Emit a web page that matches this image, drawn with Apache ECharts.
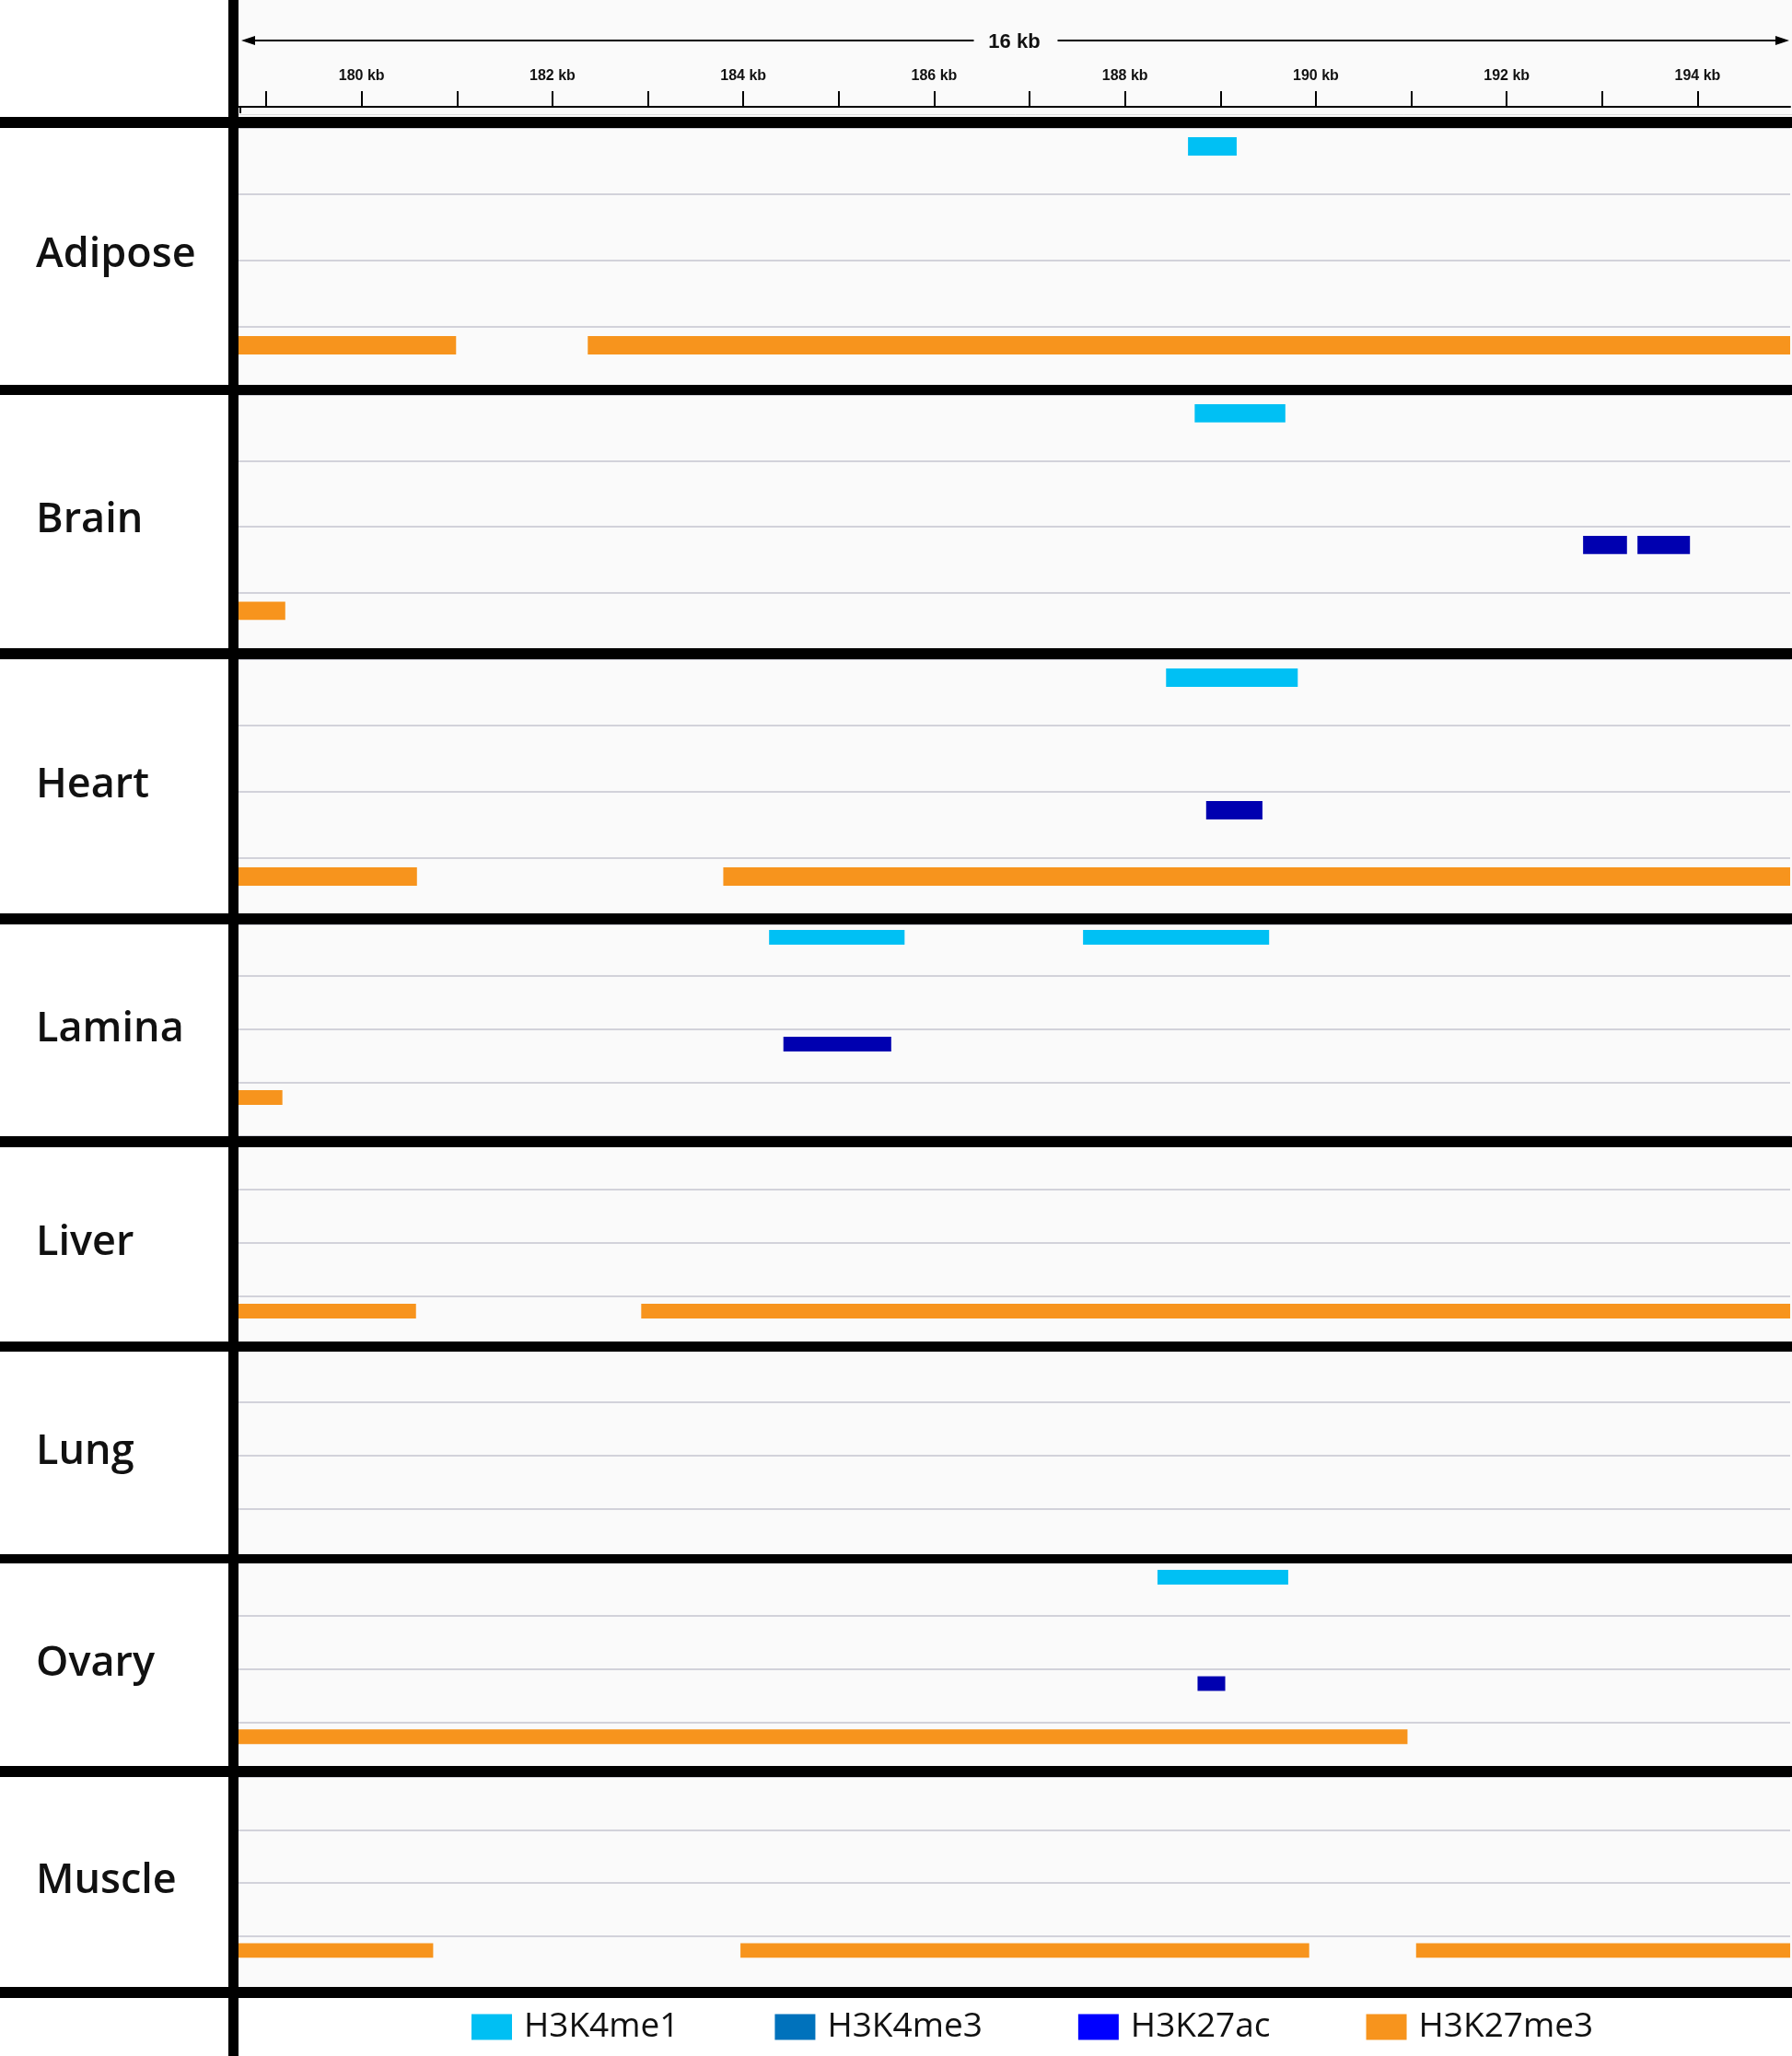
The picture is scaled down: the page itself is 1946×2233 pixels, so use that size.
<!DOCTYPE html>
<html>
<head>
<meta charset="utf-8">
<script src="https://cdn.jsdelivr.net/npm/echarts@6/dist/echarts.min.js"></script>
<style>
  html, body { margin: 0; padding: 0; background: #ffffff; }
  #chart { width: 1946px; height: 2233px; }
</style>
</head>
<body>
<div id="chart"></div>
<script>
// ---------------- data ----------------
const tissues = ['Adipose', 'Brain', 'Heart', 'Lamina', 'Liver', 'Lung', 'Ovary', 'Muscle'];
const marks = ['H3K4me1', 'H3K4me3', 'H3K27ac', 'H3K27me3'];
const viewStart = 178.71;   // kb
const viewEnd = 194.97;     // kb
const majorTicks = [180, 182, 184, 186, 188, 190, 192, 194];
const allTicks = [179, 180, 181, 182, 183, 184, 185, 186, 187, 188, 189, 190, 191, 192, 193, 194];
const spanLabel = '16 kb';

// intervals: [tissue, start kb, end kb]
const H3K4me1 = [
  ['Adipose', 188.66, 189.17],
  ['Brain', 188.73, 189.68],
  ['Heart', 188.43, 189.81],
  ['Lamina', 184.27, 185.69],
  ['Lamina', 187.56, 189.51],
  ['Ovary', 188.34, 189.71]
];
const H3K4me3 = [];
const H3K27ac = [
  ['Brain', 192.80, 193.26],
  ['Brain', 193.37, 193.92],
  ['Heart', 188.85, 189.44],
  ['Lamina', 184.42, 185.55],
  ['Ovary', 188.76, 189.05]
];
const H3K27me3 = [
  ['Adipose', 178.71, 180.99],
  ['Adipose', 182.37, 195.00],
  ['Brain', 178.71, 179.20],
  ['Heart', 178.71, 180.58],
  ['Heart', 183.79, 195.00],
  ['Lamina', 178.71, 179.17],
  ['Liver', 178.71, 180.57],
  ['Liver', 182.93, 195.00],
  ['Ovary', 178.71, 190.96],
  ['Muscle', 178.71, 180.75],
  ['Muscle', 183.97, 189.93],
  ['Muscle', 191.05, 195.00]
];
const markData = { H3K4me1, H3K4me3, H3K27ac, H3K27me3 };

// ---------------- styling / layout ----------------
const barColors = { H3K4me1: '#00c0f4', H3K4me3: '#0072bc', H3K27ac: '#0000b0', H3K27me3: '#f7941d' };
const legendColors = { H3K4me1: '#00bff3', H3K4me3: '#0072bc', H3K27ac: '#0000ff', H3K27me3: '#f7941d' };
const W = 1946, H = 2233;
const plotLeft = 259, plotRight = 2;
const gridBands = [[139, 427], [429, 715], [716, 1004], [1002, 1234], [1234, 1466], [1465, 1697], [1697, 1928], [1930, 2160]];
const sepLines = [[127, 139], [418, 429], [704, 716], [992, 1004], [1234, 1246], [1457, 1468], [1688, 1698], [1918, 1930], [2158, 2170]];

const chart = echarts.init(document.getElementById('chart'), null, { renderer: 'canvas' });

function renderItem(params, api) {
  const cat = api.value(0);
  const s = api.coord([api.value(1), cat]);
  const e = api.coord([api.value(2), cat]);
  const band = api.size([0, 1])[1];
  const rect = echarts.graphic.clipRectByRect(
    { x: s[0], y: s[1] - band / 2 + band * 0.14, width: e[0] - s[0], height: band * 0.275 },
    { x: params.coordSys.x, y: params.coordSys.y, width: params.coordSys.width, height: params.coordSys.height }
  );
  if (!rect) return null;
  return { type: 'rect', shape: rect, style: api.style() };
}

const grids = [], xAxes = [], yAxes = [], series = [];
gridBands.forEach((b, i) => {
  grids.push({ left: plotLeft, right: plotRight, top: b[0], height: b[1] - b[0], containLabel: false });
  xAxes.push({ gridIndex: i, type: 'value', min: viewStart, max: viewEnd, show: false });
  yAxes.push({
    gridIndex: i, type: 'category', data: marks, inverse: true,
    axisLine: { show: false }, axisTick: { show: false }, axisLabel: { show: false },
    splitLine: { show: true, lineStyle: { color: '#d2d2da', width: 2 } }
  });
  marks.forEach(m => {
    series.push({
      name: m, type: 'custom', xAxisIndex: i, yAxisIndex: i,
      renderItem: renderItem, clip: true,
      itemStyle: { color: barColors[m] },
      encode: { x: [1, 2], y: 0 },
      data: markData[m].filter(d => d[0] === tissues[i]).map(d => [m, d[1], d[2]]),
      z: 3
    });
  });
});

// header ruler grid
const hi = gridBands.length;
grids.push({ left: plotLeft, right: plotRight, top: 0, height: 116 });
xAxes.push({
  gridIndex: hi, type: 'value', min: viewStart, max: viewEnd, position: 'bottom',
  axisLine: { show: true, lineStyle: { color: '#000', width: 2 } },
  axisTick: { show: true, inside: true, length: 17, lineStyle: { color: '#000', width: 2 }, customValues: allTicks },
  axisLabel: {
    show: true, inside: true, margin: 25, customValues: majorTicks,
    formatter: v => v + ' kb', color: '#111', fontSize: 16, fontWeight: 'bold', fontFamily: 'Liberation Sans'
  },
  splitLine: { show: false }
});
yAxes.push({ gridIndex: hi, type: 'value', show: false, min: 0, max: 1 });

// decorative graphics
const graphic = [];
graphic.push({ type: 'rect', z: -10, silent: true, shape: { x: plotLeft, y: 0, width: W - plotLeft, height: sepLines[sepLines.length - 1][0] }, style: { fill: '#fafafa' } });
sepLines.forEach(s => {
  graphic.push({ type: 'rect', z: 50, silent: true, shape: { x: 0, y: s[0], width: W, height: s[1] - s[0] }, style: { fill: '#000' } });
});
graphic.push({ type: 'rect', z: 51, silent: true, shape: { x: 248, y: 0, width: 11, height: H }, style: { fill: '#000' } });
// ruler: span arrow + label
const arrowY = 44, midX = plotLeft + (W - plotRight - plotLeft) / 2;
graphic.push({ type: 'line', z: 20, silent: true, shape: { x1: 272, y1: arrowY, x2: midX - 44, y2: arrowY }, style: { stroke: '#000', lineWidth: 2 } });
graphic.push({ type: 'line', z: 20, silent: true, shape: { x1: midX + 47, y1: arrowY, x2: W - 16, y2: arrowY }, style: { stroke: '#000', lineWidth: 2 } });
graphic.push({ type: 'polygon', z: 20, silent: true, shape: { points: [[262, arrowY], [277, arrowY - 5], [277, arrowY + 5]] }, style: { fill: '#000' } });
graphic.push({ type: 'polygon', z: 20, silent: true, shape: { points: [[W - 3, arrowY], [W - 18, arrowY - 5], [W - 18, arrowY + 5]] }, style: { fill: '#000' } });
graphic.push({ type: 'text', z: 20, silent: true, x: midX, y: arrowY + 2, style: { text: spanLabel, fill: '#111', font: 'bold 22px "Liberation Sans"', align: 'center', verticalAlign: 'middle' } });
graphic.push({ type: 'line', z: 20, silent: true, shape: { x1: 261, y1: 116, x2: 261, y2: 123 }, style: { stroke: '#000', lineWidth: 2 } });
graphic.push({ type: 'line', z: 20, silent: true, shape: { x1: plotLeft, y1: 124.5, x2: W, y2: 124.5 }, style: { stroke: '#dddddd', lineWidth: 1 } });
// tissue labels
tissues.forEach((t, i) => {
  const cy = (sepLines[i][1] + sepLines[i + 1][0]) / 2 - 1;
  graphic.push({ type: 'text', z: 20, silent: true, x: 39, y: cy, style: { text: t, fill: '#111', font: '600 45px "Open Sans"', align: 'left', verticalAlign: 'middle' } });
});

chart.setOption({
  animation: false,
  backgroundColor: '#ffffff',
  grid: grids,
  xAxis: xAxes,
  yAxis: yAxes,
  series: series,
  graphic: graphic,
  legend: {
    left: 507, top: 2178,
    icon: 'rect', itemWidth: 44, itemHeight: 28, itemGap: 104,
    selectedMode: true,
    textStyle: { fontSize: 37, fontWeight: 500, fontFamily: 'Open Sans', color: '#111', padding: [0, 0, 0, 8] },
    data: marks.map(m => ({ name: m, itemStyle: { color: legendColors[m] } }))
  }
});
</script>
</body>
</html>
